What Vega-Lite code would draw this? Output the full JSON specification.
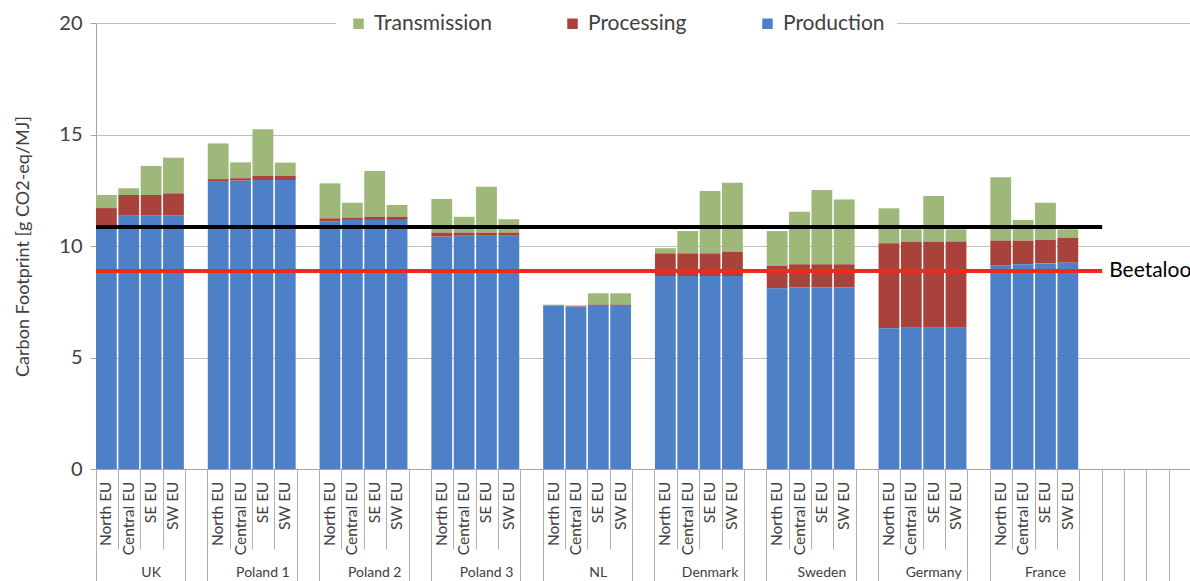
{
  "$schema": "https://vega.github.io/schema/vega-lite/v6.json",
  "width": 1094,
  "height": 446,
  "autosize": {"type": "none"},
  "padding": {"left": 96, "top": 23, "right": 0, "bottom": 112},
  "background": "white",
  "config": {"view": {"stroke": null}, "font": "Lato"},
  "data": {
    "values": [
      {"slot": "UK|North EU", "Production": 10.92, "Processing": 0.78, "Transmission": 0.59},
      {"slot": "UK|Central EU", "Production": 11.36, "Processing": 0.93, "Transmission": 0.30},
      {"slot": "UK|SE EU", "Production": 11.36, "Processing": 0.93, "Transmission": 1.30},
      {"slot": "UK|SW EU", "Production": 11.36, "Processing": 1.00, "Transmission": 1.60},
      {"slot": "Poland 1|North EU", "Production": 12.88, "Processing": 0.12, "Transmission": 1.60},
      {"slot": "Poland 1|Central EU", "Production": 12.93, "Processing": 0.11, "Transmission": 0.71},
      {"slot": "Poland 1|SE EU", "Production": 12.96, "Processing": 0.18, "Transmission": 2.09},
      {"slot": "Poland 1|SW EU", "Production": 12.96, "Processing": 0.18, "Transmission": 0.60},
      {"slot": "Poland 2|North EU", "Production": 11.09, "Processing": 0.15, "Transmission": 1.57},
      {"slot": "Poland 2|Central EU", "Production": 11.17, "Processing": 0.10, "Transmission": 0.67},
      {"slot": "Poland 2|SE EU", "Production": 11.17, "Processing": 0.14, "Transmission": 2.05},
      {"slot": "Poland 2|SW EU", "Production": 11.17, "Processing": 0.14, "Transmission": 0.53},
      {"slot": "Poland 3|North EU", "Production": 10.42, "Processing": 0.18, "Transmission": 1.51},
      {"slot": "Poland 3|Central EU", "Production": 10.46, "Processing": 0.14, "Transmission": 0.71},
      {"slot": "Poland 3|SE EU", "Production": 10.46, "Processing": 0.14, "Transmission": 2.06},
      {"slot": "Poland 3|SW EU", "Production": 10.46, "Processing": 0.14, "Transmission": 0.60},
      {"slot": "NL|North EU", "Production": 7.31, "Processing": 0.02, "Transmission": 0.04},
      {"slot": "NL|Central EU", "Production": 7.28, "Processing": 0.02, "Transmission": 0.04},
      {"slot": "NL|SE EU", "Production": 7.35, "Processing": 0.02, "Transmission": 0.51},
      {"slot": "NL|SW EU", "Production": 7.35, "Processing": 0.02, "Transmission": 0.51},
      {"slot": "Denmark|North EU", "Production": 8.65, "Processing": 1.02, "Transmission": 0.23},
      {"slot": "Denmark|Central EU", "Production": 8.65, "Processing": 1.02, "Transmission": 1.00},
      {"slot": "Denmark|SE EU", "Production": 8.65, "Processing": 1.02, "Transmission": 2.80},
      {"slot": "Denmark|SW EU", "Production": 8.65, "Processing": 1.10, "Transmission": 3.09},
      {"slot": "Sweden|North EU", "Production": 8.10, "Processing": 1.02, "Transmission": 1.55},
      {"slot": "Sweden|Central EU", "Production": 8.15, "Processing": 1.03, "Transmission": 2.36},
      {"slot": "Sweden|SE EU", "Production": 8.15, "Processing": 1.03, "Transmission": 3.33},
      {"slot": "Sweden|SW EU", "Production": 8.15, "Processing": 1.03, "Transmission": 2.91},
      {"slot": "Germany|North EU", "Production": 6.31, "Processing": 3.81, "Transmission": 1.57},
      {"slot": "Germany|Central EU", "Production": 6.33, "Processing": 3.86, "Transmission": 0.56},
      {"slot": "Germany|SE EU", "Production": 6.33, "Processing": 3.86, "Transmission": 2.05},
      {"slot": "Germany|SW EU", "Production": 6.33, "Processing": 3.87, "Transmission": 0.55},
      {"slot": "France|North EU", "Production": 9.12, "Processing": 1.12, "Transmission": 2.84},
      {"slot": "France|Central EU", "Production": 9.18, "Processing": 1.06, "Transmission": 0.93},
      {"slot": "France|SE EU", "Production": 9.22, "Processing": 1.05, "Transmission": 1.67},
      {"slot": "France|SW EU", "Production": 9.25, "Processing": 1.12, "Transmission": 0.38}
    ]
  },
  "layer": [
    {
      "transform": [
        {"fold": ["Transmission", "Processing", "Production"], "as": ["component", "value"]},
        {"calculate": "indexof(['Production','Processing','Transmission'], datum.component)", "as": "stackOrder"}
      ],
      "mark": {"type": "bar"},
      "encoding": {
        "x": {
          "field": "slot", "type": "nominal",
          "scale": {"domain": ["UK|North EU","UK|Central EU","UK|SE EU","UK|SW EU","b1","Poland 1|North EU","Poland 1|Central EU","Poland 1|SE EU","Poland 1|SW EU","b2","Poland 2|North EU","Poland 2|Central EU","Poland 2|SE EU","Poland 2|SW EU","b3","Poland 3|North EU","Poland 3|Central EU","Poland 3|SE EU","Poland 3|SW EU","b4","NL|North EU","NL|Central EU","NL|SE EU","NL|SW EU","b5","Denmark|North EU","Denmark|Central EU","Denmark|SE EU","Denmark|SW EU","b6","Sweden|North EU","Sweden|Central EU","Sweden|SE EU","Sweden|SW EU","b7","Germany|North EU","Germany|Central EU","Germany|SE EU","Germany|SW EU","b8","France|North EU","France|Central EU","France|SE EU","France|SW EU","b9","b10","b11","b12","b13"], "paddingInner": 0.07, "paddingOuter": 0},
          "axis": {
            "orient": "bottom",
            "title": null,
            "bandPosition": 0,
            "labelAngle": -90,
            "labelExpr": "indexof(datum.value, '|') > 0 ? split(datum.value, '|')[1] : ''",
            "labelOffset": 0,
            "labelPadding": -68,
            "labelFontSize": 15.5,
            "labelColor": "#404040",
            "labelOverlap": false,
            "labelBound": false,
            "tickSize": 80,
            "tickColor": "#B0B0B0",
            "tickOpacity": {"condition": {"test": "indexof(datum.value,'|Central')>0 || indexof(datum.value,'|SE')>0 || indexof(datum.value,'|SW')>0", "value": 1}, "value": 0},
            "domainColor": "#A6A6A6",
            "grid": false
          }
        },
        "y": {
          "field": "value", "type": "quantitative", "stack": "zero",
          "title": "Carbon Footprint [g CO2-eq/MJ]",
          "scale": {"domain": [0, 20]},
          "axis": {
            "values": [0, 5, 10, 15, 20],
            "grid": true,
            "gridColor": "#BFBFBF",
            "domainColor": "#A6A6A6",
            "tickColor": "#A6A6A6",
            "tickSize": 6,
            "labelFontSize": 20,
            "labelColor": "#404040",
            "labelPadding": 8,
            "titleFontSize": 18,
            "titleFontWeight": "normal",
            "titleColor": "#404040",
            "titlePadding": 26
          }
        },
        "color": {
          "field": "component", "type": "nominal",
          "scale": {"domain": ["Transmission", "Processing", "Production"], "range": ["#9DB878", "#A8423B", "#4E80C8"]},
          "legend": {
            "orient": "none", "legendX": 240, "legendY": -22,
            "direction": "horizontal", "title": null,
            "fillColor": "white", "padding": 12,
            "symbolType": "square", "symbolSize": 110, "symbolStrokeWidth": 0,
            "labelFontSize": 21, "labelColor": "#404040", "labelOffset": 5,
            "columnPadding": 70
          }
        },
        "order": {"field": "stackOrder", "type": "quantitative"}
      }
    },
    {
      "mark": {"type": "point", "opacity": 0},
      "encoding": {
        "x": {
          "field": "slot", "type": "nominal",
          "scale": {"domain": ["UK|North EU","UK|Central EU","UK|SE EU","UK|SW EU","b1","Poland 1|North EU","Poland 1|Central EU","Poland 1|SE EU","Poland 1|SW EU","b2","Poland 2|North EU","Poland 2|Central EU","Poland 2|SE EU","Poland 2|SW EU","b3","Poland 3|North EU","Poland 3|Central EU","Poland 3|SE EU","Poland 3|SW EU","b4","NL|North EU","NL|Central EU","NL|SE EU","NL|SW EU","b5","Denmark|North EU","Denmark|Central EU","Denmark|SE EU","Denmark|SW EU","b6","Sweden|North EU","Sweden|Central EU","Sweden|SE EU","Sweden|SW EU","b7","Germany|North EU","Germany|Central EU","Germany|SE EU","Germany|SW EU","b8","France|North EU","France|Central EU","France|SE EU","France|SW EU","b9","b10","b11","b12","b13"], "paddingInner": 0.07, "paddingOuter": 0},
          "axis": {
            "orient": "bottom",
            "title": null,
            "bandPosition": 0,
            "labelAngle": 0,
            "labelExpr": "indexof(datum.value, '|SE EU') > 0 ? split(datum.value, '|')[0] : ''",
            "labelPadding": -16,
            "labelBaseline": "top",
            "labelFontSize": 14,
            "labelColor": "#404040",
            "labelOverlap": false,
            "labelBound": false,
            "tickSize": 112,
            "tickColor": "#B0B0B0",
            "tickOpacity": {"condition": {"test": "indexof(datum.value,'|') < 0 || indexof(datum.value,'|North')>0", "value": 1}, "value": 0},
            "domain": false,
            "grid": false
          }
        }
      }
    },
    {
      "data": {"values": [{"from": "UK|North EU", "to": "b10", "value": 10.85}]},
      "mark": {"type": "rule", "color": "#000000", "strokeWidth": 4},
      "encoding": {
        "x": {"field": "from", "type": "nominal", "bandPosition": 0, "axis": null},
        "x2": {"field": "to", "bandPosition": 0},
        "y": {"field": "value", "type": "quantitative", "title": "Carbon Footprint [g CO2-eq/MJ]"}
      }
    },
    {
      "data": {"values": [{"from": "UK|North EU", "to": "b10", "value": 8.88}]},
      "mark": {"type": "rule", "color": "#EE2A1F", "strokeWidth": 4},
      "encoding": {
        "x": {"field": "from", "type": "nominal", "bandPosition": 0, "axis": null},
        "x2": {"field": "to", "bandPosition": 0},
        "y": {"field": "value", "type": "quantitative", "title": "Carbon Footprint [g CO2-eq/MJ]"}
      }
    },
    {
      "data": {"values": [{"at": "b10", "value": 8.88, "label": "Beetaloo"}]},
      "mark": {"type": "text", "align": "left", "baseline": "middle", "dx": 7, "fontSize": 21, "color": "#000000"},
      "encoding": {
        "x": {"field": "at", "type": "nominal", "bandPosition": 0, "axis": null},
        "y": {"field": "value", "type": "quantitative", "title": "Carbon Footprint [g CO2-eq/MJ]"},
        "text": {"field": "label"}
      }
    }
  ],
  "resolve": {"axis": {"x": "independent"}}
}
